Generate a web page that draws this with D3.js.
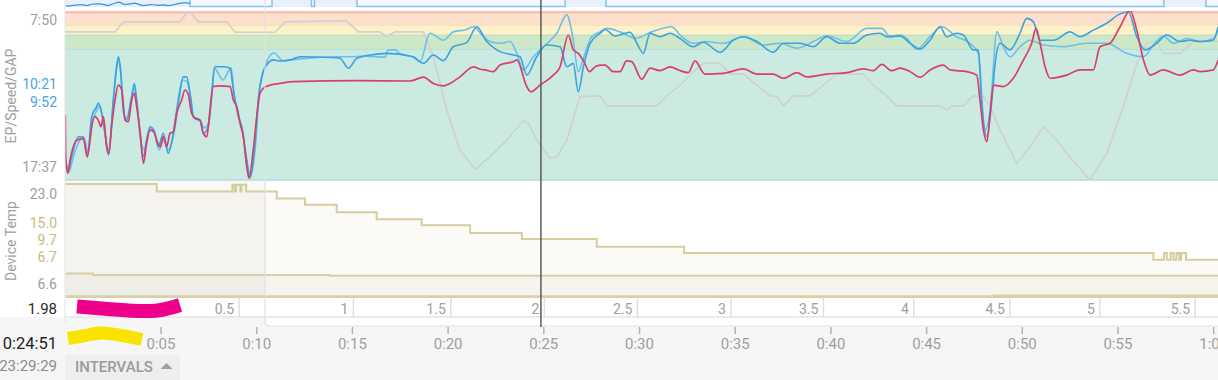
<!DOCTYPE html>
<html><head><meta charset="utf-8">
<script src="https://cdn.jsdelivr.net/npm/d3@7"></script>
<style>
html,body{margin:0;padding:0;background:#fff;overflow:hidden;}
svg{display:block;font-family:Roboto,"Noto Sans",sans-serif;}
</style></head><body>
<svg id="chart" width="1218" height="380"></svg>
<script>
// ---------------- DATA ----------------
// [elapsed minutes, speed mph]
const epSeries = [[0,4.90],[0.02,3.70],[0.13,3.22],[0.25,3.61],[0.60,4.18],[0.94,4.23],[1.15,3.70],[1.29,4.18],[1.38,4.57],[1.55,4.86],[1.72,4.76],[1.87,4.57],[1.99,4.86],[2.16,3.99],[2.28,3.80],[2.42,4.57],[2.60,5.34],[2.77,5.77],[2.95,5.63],[3.12,4.76],[3.29,4.71],[3.47,5.34],[3.61,5.53],[3.73,5.15],[3.90,4.47],[4.08,3.51],[4.25,4.09],[4.43,4.47],[4.63,4.42],[4.78,4.18],[4.95,3.99],[5.12,4.28],[5.30,3.99],[5.47,4.38],[5.64,4.42],[5.82,4.96],[6.08,5.34],[6.25,5.63],[6.43,5.49],[6.60,4.96],[6.78,4.81],[7.04,4.76],[7.21,4.38],[7.39,4.28],[7.56,5.05],[7.73,5.73],[8.08,5.75],[8.61,5.73],[8.78,5.34],[8.96,5.15],[9.13,4.67],[9.30,4.28],[9.48,3.41],[9.60,3.08],[9.82,3.90],[10.00,4.86],[10.17,5.53],[10.35,5.68],[10.70,5.77],[11.22,5.82],[11.91,5.87],[15.31,5.90],[18.01,5.89],[18.71,6.00],[19.23,5.82],[19.75,5.75],[20.10,5.82],[20.62,6.01],[21.32,6.30],[21.67,6.23],[21.93,6.21],[22.36,6.16],[22.71,6.35],[23.41,6.45],[23.59,6.50],[24.11,5.73],[24.32,5.58],[24.80,5.77],[25.50,6.06],[25.85,6.30],[26.28,7.22],[26.54,6.79],[26.80,6.69],[27.10,6.45],[27.38,6.16],[27.68,6.30],[27.94,6.35],[28.20,6.35],[28.63,6.16],[28.98,6.16],[29.33,6.47],[29.59,6.45],[30.12,5.94],[30.55,6.26],[31.07,6.19],[31.60,6.30],[32.03,6.21],[32.55,6.13],[32.90,6.47],[33.42,6.09],[34.38,6.11],[35.43,6.24],[36.13,6.09],[36.99,6.09],[37.52,5.97],[38.22,6.13],[38.74,6.01],[39.78,6.09],[40.83,6.13],[41.70,6.24],[42.22,6.19],[42.66,6.37],[43.18,6.19],[43.61,6.26],[44.14,6.16],[44.66,6.00],[45.18,6.21],[45.88,6.35],[46.23,6.21],[47.10,6.16],[47.62,6.06],[47.79,5.34],[47.97,4.47],[48.15,4.14],[48.32,4.96],[48.49,5.77],[49.01,5.73],[49.53,5.97],[50.06,6.50],[50.49,6.98],[50.72,7.41],[50.93,6.98],[51.19,6.30],[51.45,5.97],[52.32,6.06],[53.02,6.21],[53.71,6.21],[54.06,6.88],[54.58,6.98],[55.11,7.46],[55.63,7.92],[55.98,7.36],[56.33,6.50],[56.68,6.06],[57.37,6.21],[58.24,6.06],[58.94,6.21],[59.29,6.16],[59.98,6.21],[60.23,6.50]];

const speedSeries = [[0.02,3.61],[0.16,3.32],[0.33,3.70],[0.68,4.28],[0.94,4.28],[1.15,3.70],[1.38,4.86],[1.64,5.15],[1.72,5.25],[1.90,4.96],[2.07,4.38],[2.25,3.75],[2.51,5.34],[2.69,6.30],[2.77,6.59],[2.89,6.21],[3.03,5.05],[3.21,4.76],[3.47,5.44],[3.61,5.82],[3.73,5.34],[3.90,4.38],[4.08,3.70],[4.25,4.18],[4.43,4.57],[4.63,4.47],[4.86,3.99],[5.12,4.38],[5.38,3.80],[5.64,4.38],[5.90,5.34],[6.17,6.01],[6.34,6.01],[6.52,5.53],[6.69,4.86],[7.04,4.76],[7.21,4.38],[7.47,4.57],[7.65,5.53],[7.82,6.30],[8.26,6.30],[8.61,6.26],[8.78,5.63],[9.04,4.86],[9.22,4.57],[9.48,3.61],[9.65,3.12],[9.91,4.09],[10.08,5.34],[10.26,6.01],[10.52,6.35],[10.87,6.50],[11.22,6.47],[11.74,6.50],[12.27,6.59],[13.83,6.57],[14.35,6.55],[14.79,6.26],[15.23,6.55],[15.92,6.64],[16.79,6.69],[18.18,6.59],[18.71,6.40],[19.23,6.64],[19.75,6.48],[20.27,6.88],[20.97,7.00],[21.50,7.46],[22.02,7.03],[22.54,6.79],[23.41,6.64],[23.76,6.59],[24.11,6.06],[24.63,6.59],[25.15,6.93],[25.85,6.88],[26.20,6.30],[26.54,6.40],[26.80,5.58],[27.07,6.30],[27.42,6.98],[27.94,7.27],[28.20,7.38],[28.72,7.19],[29.51,7.30],[29.86,6.98],[30.20,6.69],[30.55,7.27],[31.07,7.17],[31.60,7.27],[32.12,7.12],[32.81,6.88],[33.33,7.01],[34.21,6.72],[34.90,7.07],[35.43,7.17],[36.13,7.03],[36.99,6.72],[37.52,6.98],[38.39,6.98],[39.08,6.88],[39.78,7.17],[40.48,6.98],[41.17,6.98],[41.87,7.22],[42.57,7.27],[42.92,7.17],[43.61,7.19],[44.14,6.98],[44.66,6.81],[45.18,7.07],[45.70,7.46],[46.05,7.17],[46.57,7.27],[46.92,7.22],[47.44,6.79],[47.70,6.79],[47.88,5.25],[48.15,4.28],[48.41,5.34],[48.58,6.40],[48.84,6.98],[49.36,6.79],[49.88,7.27],[50.23,7.70],[50.58,7.60],[50.93,7.07],[51.63,7.07],[52.50,7.31],[53.02,7.17],[53.71,7.36],[54.41,7.56],[55.11,7.83],[55.54,7.89],[55.98,7.17],[56.41,6.79],[57.02,6.98],[57.55,7.22],[58.24,7.03],[58.76,7.07],[59.29,7.03],[59.98,7.07],[60.23,7.46]];

const gapSeries = [[0.02,3.46],[0.19,3.26],[0.40,3.66],[0.77,4.18],[0.98,4.24],[1.19,3.84],[1.40,4.68],[1.66,5.05],[1.81,5.17],[1.97,4.76],[2.13,4.18],[2.28,3.90],[2.49,5.20],[2.65,6.21],[2.75,6.50],[2.91,6.06],[3.07,4.91],[3.22,4.82],[3.43,5.34],[3.59,5.69],[3.75,5.20],[3.90,4.33],[4.13,3.90],[4.27,4.24],[4.43,4.53],[4.69,4.33],[4.90,3.90],[5.16,4.18],[5.37,3.90],[5.63,4.24],[5.89,5.11],[6.15,5.92],[6.36,5.86],[6.57,5.34],[6.72,4.82],[7.09,4.71],[7.25,4.53],[7.51,4.71],[7.67,5.63],[7.78,6.27],[8.24,5.92],[8.66,6.27],[8.83,5.49],[9.09,4.82],[9.25,4.47],[9.51,3.46],[9.65,3.09],[9.96,4.18],[10.12,5.49],[10.33,6.12],[10.90,6.70],[11.39,6.47],[12.27,6.53],[14.35,6.59],[14.87,6.59],[15.66,6.61],[16.71,6.58],[16.86,6.79],[17.23,6.79],[17.49,6.67],[18.17,6.58],[18.53,6.44],[19.05,7.27],[19.75,7.07],[20.27,7.31],[20.97,7.38],[21.32,7.46],[21.85,7.17],[22.19,7.03],[22.71,6.98],[23.24,7.03],[23.59,6.69],[23.93,6.21],[24.45,6.59],[24.98,6.88],[25.68,7.27],[26.20,7.80],[26.54,7.07],[26.80,6.16],[27.07,6.55],[27.50,7.17],[27.94,7.31],[28.29,7.41],[28.98,7.31],[29.82,7.13],[30.64,7.31],[31.68,7.46],[32.12,7.22],[32.81,6.98],[33.51,7.03],[34.38,6.98],[35.43,7.17],[36.47,6.93],[37.34,6.98],[38.22,6.84],[39.08,7.03],[39.78,7.20],[40.83,7.03],[41.87,7.41],[42.66,7.41],[43.09,7.17],[43.61,7.22],[43.96,7.12],[44.48,6.81],[45.18,7.17],[45.79,7.46],[46.57,7.17],[47.27,6.98],[47.70,6.69],[48.05,4.47],[48.32,5.05],[48.67,7.31],[49.01,6.88],[49.36,6.59],[49.88,6.88],[50.41,7.07],[51.11,6.93],[52.15,6.88],[53.37,6.98],[54.41,6.98],[55.45,6.69],[56.33,6.59],[56.85,6.93],[57.37,7.19],[57.90,6.98],[58.60,7.12],[59.29,7.03],[59.98,7.12],[60.23,7.36]];

const grayTrace = [[0,7.31],[2.60,7.31],[3.03,7.60],[5.99,7.60],[6.44,7.92],[6.95,7.60],[8.43,7.60],[8.87,7.30],[10.96,7.30],[11.48,7.60],[14.70,7.63],[15.31,7.31],[16.44,7.31],[16.79,7.17],[17.23,7.31],[18.71,7.31],[19.23,6.59],[19.93,5.05],[20.62,3.90],[21.41,3.34],[22.19,3.70],[23.06,4.18],[23.93,4.74],[24.19,4.67],[24.63,4.18],[25.33,3.66],[25.68,3.70],[26.20,4.18],[26.89,5.44],[27.94,5.46],[28.29,5.17],[30.90,5.17],[31.42,5.46],[32.12,5.77],[32.64,6.06],[33.34,6.40],[34.21,6.40],[34.73,6.09],[35.43,6.09],[36.13,5.77],[36.82,5.46],[37.17,5.44],[37.52,5.17],[38.04,5.46],[38.91,5.46],[39.61,5.77],[40.31,6.09],[41.70,6.09],[42.22,5.77],[42.92,5.46],[43.44,5.17],[45.70,5.17],[46.05,5.05],[46.31,5.17],[46.92,5.17],[47.44,5.46],[47.97,5.44],[48.32,5.17],[48.84,4.47],[49.71,3.51],[50.41,3.99],[51.11,4.57],[51.80,4.18],[52.32,3.80],[53.54,3.03],[54.41,3.80],[55.28,5.15],[55.98,6.40],[56.50,6.98],[57.02,7.03],[57.37,6.69],[58.24,6.69],[58.94,7.03],[60.23,7.03]];

const zonePaces = ["7:39", "8:00", "8:19", "8:49"];
const paceAxisLabels = ["7:50", "17:37"];
const paceReadouts = ["10:21", "9:52"];

// device temp: [minutes, value]
const deviceTemp = [[0,23.0],[4.78,21.9],[8.73,22.9],[8.85,21.9],[8.92,22.9],[9.15,21.9],[9.2,22.9],[9.45,21.9],[11.05,20.9],[12.52,20.0],[14.18,18.9],[16.27,17.9],[18.62,17.0],[21.15,15.9],[23.85,15.0],[27.77,13.9],[32.33,13.0],[56.85,12.0],[57.4,13.0],[57.55,12.0],[57.75,13.0],[57.9,12.0],[58.05,13.0],[58.2,12.0],[58.3,13.0],[58.55,12.0],[60.5,12.0]];
const tempSeries2 = [[0,10.0],[1.46,9.8],[13.83,9.7],[60.5,9.7]];
const tempSeries3 = [[0,6.7],[48.5,6.8],[60.5,6.8]];
const tempAxisLabels = [23.0, 6.6];
const tempReadouts = [15.0, 9.7, 6.7];

const distanceMarks = [0.5, 1, 1.5, 2, 2.5, 3, 3.5, 4, 4.5, 5, 5.5];
const distanceTimes = [9.08, 15.05, 20.14, 25.03, 29.89, 34.78, 39.61, 44.33, 49.35, 54.05, 59.03];
const timeTicks = [5, 10, 15, 20, 25, 30, 35, 40, 45, 50, 55, 60];

const intervalStarts = [6.52, 12.86, 15.24, 28.25, 59.6];
const intervalEnds   = [10.80, 13.02, 26.11, 57.40, 61.5];

const cursorTime = "0:24:51";
const cursorDistance = "1.98";
const clockTime = "23:29:29";

// ---------------- CHART ----------------
const W = 1218, H = 380;
const svg = d3.select("#chart");
const paceToMph = s => { const [m, sec] = s.split(":").map(Number); return 3600 / (m * 60 + sec); };
const hmsToMin = s => { const p = s.split(":").map(Number); return p[0] * 60 + p[1] + p[2] / 60; };

const x = d3.scaleLinear().domain([0, 60]).range([65.3, 1213.7]);
const y = d3.scaleLinear().domain([3, 8]).range([181, 8]);
const yT = d3.scaleLinear().domain([6.6, 23]).range([297, 184]);
const yMini = d3.scaleLinear().domain([3, 8]).range([6.5, 0.5]);

const plotL = 65, plotT = 11, plotB = 180;
const gray = "#9e9e9e";

// backgrounds
svg.append("rect").attr("width", W).attr("height", H).attr("fill", "#f6f6f6");
svg.append("rect").attr("width", W).attr("height", 317).attr("fill", "#fff");
svg.append("path").attr("d", `M265,0 H${W} V326 H270 Q265,326 265,321 Z`).attr("fill", "#fff");

// top strip (intervals overview)
svg.append("rect").attr("x", plotL).attr("y", 0).attr("width", W - plotL).attr("height", 7).attr("fill", "#e7f0fb");
svg.selectAll(".ivl").data(intervalStarts).enter().append("rect")
  .attr("x", (d) => x(d)).attr("y", -2)
  .attr("width", (d, i) => x(intervalEnds[i]) - x(d)).attr("height", 8.5)
  .attr("fill", "#f3f8fe").attr("stroke", "#86c2ea").attr("stroke-width", 1.5);
svg.append("path").datum(speedSeries.filter(d => d[0] <= intervalStarts[0]))
  .attr("d", d3.line().x(d => x(d[0])).y(d => yMini(d[1])))
  .attr("fill", "none").attr("stroke", "#3d8ee0").attr("stroke-width", 1.2);

// main chart zones
svg.append("clipPath").attr("id", "mainClip").append("rect")
  .attr("x", plotL).attr("y", plotT).attr("width", W - plotL).attr("height", plotB - plotT);
const zoneEdges = [plotT, ...zonePaces.map(p => y(paceToMph(p))), plotB];
const zoneFill = ["#f6bfc0", "#fde0cb", "#fdf1ca", "#cde8c9", "#cbebe2"];
const zoneLine = ["#f2b0b0", "#f6d3b2", "#efe2b0", "#b9dcb8", "#b6dfd3"];
const g = svg.append("g").attr("clip-path", "url(#mainClip)");
for (let i = 0; i < zoneFill.length; i++) {
  g.append("rect").attr("x", plotL).attr("y", zoneEdges[i]).attr("width", W - plotL)
    .attr("height", zoneEdges[i + 1] - zoneEdges[i]).attr("fill", zoneFill[i]);
}
zonePaces.forEach((p, i) => {
  g.append("line").attr("x1", plotL).attr("x2", W).attr("y1", y(paceToMph(p))).attr("y2", y(paceToMph(p)))
    .attr("stroke", zoneLine[i + 1]).attr("stroke-width", 1);
});
const line = d3.line().x(d => x(d[0])).y(d => y(d[1]));
const smooth = d3.line().curve(d3.curveMonotoneX).x(d => x(d[0])).y(d => y(d[1]));
g.append("path").datum(grayTrace).attr("d", line).attr("fill", "none").attr("stroke", "#d0d0d0").attr("stroke-width", 1.6);
g.append("path").datum(gapSeries).attr("d", smooth).attr("fill", "none").attr("stroke", "#6bbfe9").attr("stroke-width", 1.6);
g.append("path").datum(speedSeries).attr("d", smooth).attr("fill", "none").attr("stroke", "#3aa2de").attr("stroke-width", 1.6);
g.append("path").datum(epSeries).attr("d", smooth).attr("fill", "none").attr("stroke", "#d93f6d").attr("stroke-width", 1.7);
svg.append("line").attr("x1", plotL).attr("x2", W).attr("y1", plotB).attr("y2", plotB).attr("stroke", "#b6ded3").attr("stroke-width", 1.5);

// device temp panel
svg.append("clipPath").attr("id", "tempClip").append("rect")
  .attr("x", plotL).attr("y", 181).attr("width", W - plotL).attr("height", 116);
const tg = svg.append("g").attr("clip-path", "url(#tempClip)");
const area = d3.area().curve(d3.curveStepAfter).x(d => x(d[0])).y0(297).y1(d => yT(d[1]));
const stepLine = d3.line().curve(d3.curveStepAfter).x(d => x(d[0])).y(d => yT(d[1]));
tg.append("path").datum(deviceTemp).attr("d", area).attr("fill", "#fbfaf6");
tg.append("path").datum(tempSeries2).attr("d", area).attr("fill", "#f6f4ef");
tg.append("path").datum(tempSeries3).attr("d", area).attr("fill", "#efebe0");
tg.append("rect").attr("x", plotL).attr("y", 181).attr("width", 265 - plotL).attr("height", 116).attr("fill", "rgba(60,50,20,0.035)");
tg.append("path").datum(deviceTemp).attr("d", stepLine).attr("fill", "none").attr("stroke", "#d6cc9c").attr("stroke-width", 2);
tg.append("path").datum(tempSeries2).attr("d", stepLine).attr("fill", "none").attr("stroke", "#d8cfa4").attr("stroke-width", 2);
tg.append("path").datum(tempSeries3).attr("d", stepLine).attr("fill", "none").attr("stroke", "#d8cfa4").attr("stroke-width", 2);
svg.append("line").attr("x1", plotL).attr("x2", W).attr("y1", 297).attr("y2", 297).attr("stroke", "#d9d0a8").attr("stroke-width", 2);

// distance row
svg.append("line").attr("x1", plotL).attr("x2", W).attr("y1", 317).attr("y2", 317).attr("stroke", "#e4e4e4").attr("stroke-width", 1.5);
distanceMarks.forEach((d, i) => {
  const xx = x(distanceTimes[i]);
  svg.append("line").attr("x1", xx).attr("x2", xx).attr("y1", 298).attr("y2", 317).attr("stroke", "#e0e0e0").attr("stroke-width", 1.5);
  svg.append("text").attr("x", xx - 5).attr("y", 308.5).attr("text-anchor", "end").attr("dominant-baseline", "central")
    .attr("font-size", 14).attr("fill", gray).text(d);
});

// panel edges
svg.append("path").attr("d", `M265,0 V321 Q265,326 270,326 H${W}`).attr("fill", "none").attr("stroke", "#e2e2e2").attr("stroke-width", 1.2);
svg.append("line").attr("x1", plotL).attr("x2", plotL).attr("y1", 0).attr("y2", 322).attr("stroke", "#e3e3e3").attr("stroke-width", 1);

// time axis
const fmtMin = m => `${Math.floor(m / 60)}:${String(m % 60).padStart(2, "0")}`;
timeTicks.forEach(t => {
  svg.append("line").attr("x1", x(t)).attr("x2", x(t)).attr("y1", 327).attr("y2", 334).attr("stroke", "#b3b3b3").attr("stroke-width", 1.5);
  svg.append("text").attr("x", x(t)).attr("y", 344).attr("text-anchor", "middle").attr("dominant-baseline", "central")
    .attr("font-size", 15).attr("fill", gray).text(fmtMin(t));
});

// left labels
const lbl = (txt, yy, fill, size) => svg.append("text").attr("x", 57).attr("y", yy).attr("text-anchor", "end")
  .attr("dominant-baseline", "central").attr("font-size", size || 14).attr("fill", fill).text(txt);
paceAxisLabels.forEach(p => lbl(p, y(paceToMph(p)), gray));
function stack(naturals, gap, limit) {
  const pos = naturals.slice();
  for (let i = 1; i < pos.length; i++) pos[i] = Math.max(pos[i], pos[i - 1] + gap);
  pos[pos.length - 1] = Math.min(pos[pos.length - 1], limit);
  for (let i = pos.length - 2; i >= 0; i--) pos[i] = Math.min(pos[i], pos[i + 1] - gap);
  return pos;
}
const pr = stack(paceReadouts.map(p => y(paceToMph(p))), 18, y(paceToMph(paceAxisLabels[1])) - 27);
paceReadouts.forEach((p, i) => lbl(p, pr[i], "#4aa3df"));
lbl(tempAxisLabels[0].toFixed(1), 194, gray);
lbl(tempAxisLabels[1].toFixed(1), 284, gray);
const tr = stack(tempReadouts.map(v => yT(v)), 17, 284 - 27);
tempReadouts.forEach((v, i) => lbl(v.toFixed(1), tr[i], "#c9b97c"));
lbl(cursorDistance, 308.5, "#2a2a2a", 15);
lbl(cursorTime, 343.5, "#222", 16.5);
lbl(clockTime, 366, "#8a8a8a", 15);

// axis titles
svg.append("text").attr("transform", "translate(10.5,96) rotate(-90)").attr("text-anchor", "middle")
  .attr("dominant-baseline", "central").attr("font-size", 14).attr("fill", gray).text("EP/Speed/GAP");
svg.append("text").attr("transform", "translate(10.5,241) rotate(-90)").attr("text-anchor", "middle")
  .attr("dominant-baseline", "central").attr("font-size", 14).attr("fill", gray).text("Device Temp");

// intervals button
svg.append("rect").attr("x", 65).attr("y", 355).attr("width", 115).attr("height", 25).attr("fill", "#eeeeee");
svg.append("text").attr("x", 75).attr("y", 367).attr("dominant-baseline", "central").attr("font-size", 15)
  .attr("font-weight", 500).attr("fill", "#9a9a9a").text("INTERVALS");
svg.append("path").attr("d", "M160.5,369 L172.5,369 L166.5,363 Z").attr("fill", "#a0a0a0");

// cursor
const cx = x(hmsToMin(cursorTime));
svg.append("line").attr("x1", cx).attr("x2", cx).attr("y1", 0).attr("y2", 327).attr("stroke", "#5a5a5a").attr("stroke-width", 1.5);

// redaction scribbles
const sc = d3.line().curve(d3.curveBasis);
svg.append("path").attr("d", sc([[77, 306.5], [100, 308.5], [133, 311], [157, 311.5], [172, 307.5], [180, 305]]))
  .attr("fill", "none").attr("stroke", "#ec008c").attr("stroke-width", 14);
svg.append("path").attr("d", sc([[68, 338.5], [87, 335.5], [100, 332], [117, 334.5], [142, 339.5]]))
  .attr("fill", "none").attr("stroke", "#f8e400").attr("stroke-width", 13);
</script>
</body></html>
